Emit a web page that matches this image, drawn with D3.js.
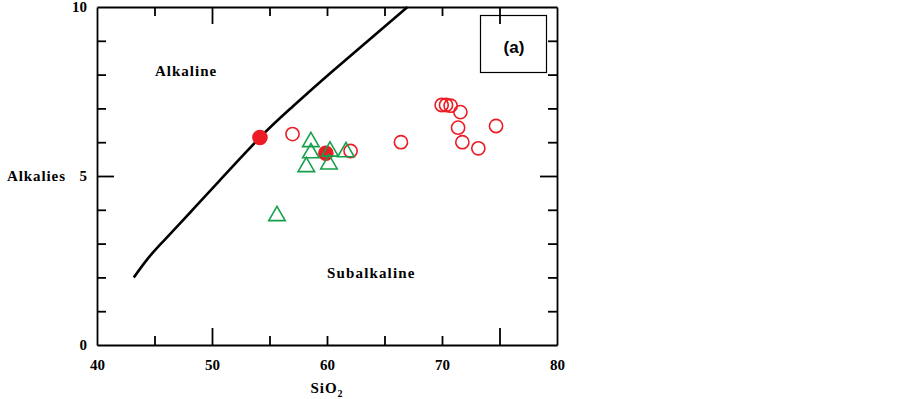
<!DOCTYPE html>
<html>
<head>
<meta charset="utf-8">
<script src="https://cdn.jsdelivr.net/npm/d3@7"></script>
<style>
  body { margin: 0; background: #fff; }
  text { font-family: "Liberation Serif", "Times New Roman", serif; font-weight: bold; }
</style>
</head>
<body>
<script>
/* TAS-style alkaline / subalkaline plot */

const width = 903, height = 399;
const margin = {top: 7, right: 346, bottom: 54, left: 97};

// Irvine & Baragar divide [SiO2, alkalies]
const divideSiO2 = [43.2, 44.4, 45.8, 48.1, 50.7, 54.2, 57.0, 60.3, 67.0];
const divideAlk  = [2.0, 2.55, 3.08, 3.92, 4.88, 6.15, 7.05, 8.05, 10.0];

// red samples (filled)
const filledSiO2 = [54.17, 59.9];
const filledAlk  = [6.14, 5.67];

// red samples (open)
const openSiO2 = [57.0, 62.05, 66.43, 69.97, 70.35, 70.75, 71.6, 71.4, 71.77, 73.16, 74.7];
const openAlk  = [6.24, 5.74, 6.0, 7.10, 7.10, 7.08, 6.89, 6.43, 6.0, 5.82, 6.48];

// green triangles
const triSiO2 = [58.6, 58.6, 58.2, 60.26, 60.17, 61.65, 55.65];
const triAlk  = [6.01, 5.68, 5.27, 5.73, 5.35, 5.71, 3.82];

const xTicks = [45, 50, 55, 60, 65, 70, 75];
const xLongTicks = [50, 75];
const xLabels = [40, 50, 60, 70, 80];
const yTicks = [1, 2, 3, 4, 5, 6, 7, 8, 9];
const yLongTicks = [5];
const yLabels = [0, 5, 10];

const red = "#ec1c24";
const green = "#14a04b";

let x = d3.scaleLinear()
  .domain([40, 80])
  .range([margin.left, width - margin.right]);

let y = d3.scaleLinear()
  .domain([0, 10])
  .range([height - margin.bottom, margin.top]);

const svg = d3.select("body").append("svg")
  .attr("width", width)
  .attr("height", height);

// divide curve
const line = d3.line()
  .x(d => x(d[0]))
  .y(d => y(d[1]))
  .curve(d3.curveNatural);

svg.append("path")
  .datum(d3.zip(divideSiO2, divideAlk))
  .attr("d", line)
  .attr("fill", "none")
  .attr("stroke", "#000")
  .attr("stroke-width", 2.6);

// frame ticks (all inward)
function tickLen(v, longs) { return longs.includes(v) ? 17 : 9; }

const axBottom = svg.append("g")
  .attr("transform", `translate(0,${y(0)})`)
  .call(d3.axisBottom(x).tickValues(xTicks).tickSizeOuter(0).tickFormat(""));
axBottom.selectAll(".tick line").attr("y2", d => -tickLen(d, xLongTicks));

const axTop = svg.append("g")
  .attr("transform", `translate(0,${y(10)})`)
  .call(d3.axisTop(x).tickValues(xTicks).tickSizeOuter(0).tickFormat(""));
axTop.selectAll(".tick line").attr("y2", d => tickLen(d, xLongTicks));

const axLeft = svg.append("g")
  .attr("transform", `translate(${x(40)},0)`)
  .call(d3.axisLeft(y).tickValues(yTicks).tickSizeOuter(0).tickFormat(""));
axLeft.selectAll(".tick line").attr("x2", d => tickLen(d, yLongTicks));

const axRight = svg.append("g")
  .attr("transform", `translate(${x(80)},0)`)
  .call(d3.axisRight(y).tickValues(yTicks).tickSizeOuter(0).tickFormat(""));
axRight.selectAll(".tick line").attr("x2", d => -tickLen(d, yLongTicks));

svg.selectAll(".domain, .tick line")
  .attr("stroke", "#000")
  .attr("stroke-width", 1.8);

// tick labels
const xl = svg.append("g")
  .attr("transform", `translate(0,${y(0)})`)
  .call(d3.axisBottom(x).tickValues(xLabels).tickSize(0).tickPadding(14));
const yl = svg.append("g")
  .attr("transform", `translate(${x(40)},0)`)
  .call(d3.axisLeft(y).tickValues(yLabels).tickSize(0).tickPadding(10));
[xl, yl].forEach(g => {
  g.select(".domain").remove();
  g.selectAll("text")
    .attr("fill", "#000")
    .style("font-family", "'Liberation Serif', serif")
    .style("font-weight", "bold")
    .style("font-size", "15px");
});

// axis titles
const sio2 = svg.append("text")
  .attr("x", x(60))
  .attr("y", 393)
  .attr("text-anchor", "middle")
  .style("font-size", "15px")
  .style("letter-spacing", "1px");
sio2.append("tspan").text("SiO");
sio2.append("tspan").attr("dy", 4).style("font-size", "10px").text("2");

svg.append("text")
  .attr("x", 7)
  .attr("y", y(5) + 5)
  .style("font-size", "15px")
  .style("letter-spacing", "0.9px")
  .text("Alkalies");

// field names
svg.append("text")
  .attr("x", 155)
  .attr("y", 76)
  .style("font-size", "15px")
  .style("letter-spacing", "1px")
  .text("Alkaline");

svg.append("text")
  .attr("x", 327)
  .attr("y", 278)
  .style("font-size", "15px")
  .style("letter-spacing", "1.15px")
  .text("Subalkaline");

// panel label box
svg.append("rect")
  .attr("x", 480.5).attr("y", 15.5)
  .attr("width", 66).attr("height", 57)
  .attr("fill", "none")
  .attr("stroke", "#000")
  .attr("stroke-width", 1.2);

svg.append("text")
  .attr("x", 514)
  .attr("y", 53)
  .attr("text-anchor", "middle")
  .style("font-family", "'Liberation Sans', Arial, sans-serif")
  .style("font-size", "17px")
  .text("(a)");

// samples
svg.append("g").selectAll("circle")
  .data(d3.zip(openSiO2, openAlk))
  .join("circle")
  .attr("cx", d => x(d[0]))
  .attr("cy", d => y(d[1]))
  .attr("r", 6.6)
  .attr("fill", "none")
  .attr("stroke", red)
  .attr("stroke-width", 1.6);

svg.append("g").selectAll("circle")
  .data(d3.zip(filledSiO2, filledAlk))
  .join("circle")
  .attr("cx", d => x(d[0]))
  .attr("cy", d => y(d[1]))
  .attr("r", 7.8)
  .attr("fill", red);

const tri = d3.symbol().type(d3.symbolTriangle).size(118);
svg.append("g").selectAll("path")
  .data(d3.zip(triSiO2, triAlk))
  .join("path")
  .attr("transform", d => `translate(${x(d[0])},${y(d[1])})`)
  .attr("d", tri)
  .attr("fill", "none")
  .attr("stroke", green)
  .attr("stroke-width", 1.6);
</script>
</body>
</html>
